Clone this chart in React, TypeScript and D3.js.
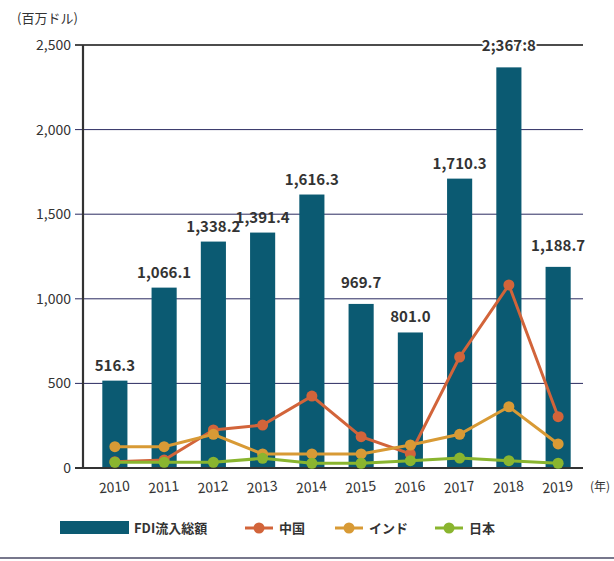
import { useRef, useEffect } from 'react';
import * as d3 from 'd3';

const years = ['2010', '2011', '2012', '2013', '2014', '2015', '2016', '2017', '2018', '2019'];
const fdiTotal = [516.3, 1066.1, 1338.2, 1391.4, 1616.3, 969.7, 801.0, 1710.3, 2367.8, 1188.7];
const fdiLabels = ['516.3', '1,066.1', '1,338.2', '1,391.4', '1,616.3', '969.7', '801.0', '1,710.3', '2;367:8', '1,188.7'];
const china = [37, 47, 225, 254, 425, 185, 83, 656, 1082, 303];
const india = [126, 126, 199, 83, 83, 83, 136, 199, 362, 142];
const japan = [34, 34, 34, 57, 28, 28, 43, 59, 43, 28];
const yTicks = [0, 500, 1000, 1500, 2000, 2500];

const FONT = '"Noto Sans CJK JP", "Noto Sans", sans-serif';
const BAR = '#0b5a72';
const lineSeries = [
  { name: '中国', values: china, color: '#d2643a' },
  { name: 'インド', values: india, color: '#d89a35' },
  { name: '日本', values: japan, color: '#8ab52f' },
];

export default function App() {
  const svgRef = useRef<SVGSVGElement>(null);

  useEffect(() => {
    const svg = d3.select(svgRef.current);
    svg.selectAll('*').remove();

    const left = 83, right = 583, top = 45, bottom = 468;

    const x = d3.scaleBand().domain(years).range([left + 7, right]).paddingInner(0.49).paddingOuter(0.25);
    const y = d3.scaleLinear().domain([0, 2500]).range([bottom, top]);
    const cx = (d: string) => (x(d) as number) + x.bandwidth() / 2;

    // grid
    svg.append('g').selectAll('line').data(yTicks.filter(t => t > 0)).join('line')
      .attr('x1', left - 8).attr('x2', right)
      .attr('y1', d => y(d)).attr('y2', d => y(d))
      .attr('stroke', d => d === 2500 ? '#111' : '#2a2a60')
      .attr('stroke-width', d => d === 2500 ? 1.3 : 1);

    // y labels
    svg.append('g').selectAll('text').data(yTicks).join('text')
      .attr('x', left - 12).attr('y', d => y(d) + 5)
      .attr('text-anchor', 'end').attr('font-size', 14).attr('fill', '#333')
      .attr('font-family', FONT)
      .text(d => d3.format(',')(d));

    svg.append('text').attr('x', 17).attr('y', 23).attr('font-size', 13)
      .attr('fill', '#333').attr('font-family', FONT).text('(百万ドル)');

    // bars
    svg.append('g').selectAll('rect').data(fdiTotal).join('rect')
      .attr('x', (_, i) => x(years[i]) as number)
      .attr('y', d => y(d))
      .attr('width', x.bandwidth())
      .attr('height', d => y(0) - y(d))
      .attr('fill', BAR);

    // axes
    svg.append('line').attr('x1', left).attr('x2', left).attr('y1', top).attr('y2', bottom + 1)
      .attr('stroke', '#333').attr('stroke-width', 2.2);
    svg.append('line').attr('x1', left - 8).attr('x2', right).attr('y1', bottom).attr('y2', bottom)
      .attr('stroke', '#333').attr('stroke-width', 2.2);

    // lines
    const line = d3.line<number>().x((_, i) => cx(years[i])).y(d => y(d));
    lineSeries.forEach(s => {
      const g = svg.append('g');
      g.append('path').datum(s.values).attr('d', line).attr('fill', 'none')
        .attr('stroke', s.color).attr('stroke-width', 3);
      g.selectAll('circle').data(s.values).join('circle')
        .attr('cx', (_, i) => cx(years[i])).attr('cy', d => y(d)).attr('r', 5.5)
        .attr('fill', s.color);
    });

    // value labels
    svg.append('g').selectAll('text').data(fdiTotal).join('text')
      .attr('x', (_, i) => cx(years[i]))
      .attr('y', (d, i) => y(d) - (i === 5 || i === 8 || i === 9 ? 16 : 10))
      .attr('text-anchor', 'middle').attr('font-size', 15).attr('font-weight', 'bold')
      .attr('fill', '#333').attr('font-family', FONT)
      .attr('stroke', (_, i) => i === 8 ? '#fff' : 'none')
      .attr('stroke-width', 4).attr('paint-order', 'stroke')
      .text((_, i) => fdiLabels[i]);

    // x labels
    svg.append('g').selectAll('text').data(years).join('text')
      .attr('transform', d => `translate(${cx(d)},${bottom + 24}) rotate(-5)`)
      .attr('text-anchor', 'middle').attr('font-size', 14).attr('fill', '#333')
      .attr('font-family', FONT).text(d => d);
    svg.append('text').attr('x', 590).attr('y', bottom + 23).attr('font-size', 12)
      .attr('fill', '#333').attr('font-family', FONT).text('(年)');

    // legend
    const ly = 528;
    svg.append('rect').attr('x', 60).attr('y', ly - 7).attr('width', 69).attr('height', 13).attr('fill', BAR);
    svg.append('text').attr('x', 134).attr('y', ly + 5).attr('font-size', 13).attr('font-weight', 'bold')
      .attr('fill', '#333').attr('font-family', FONT).text('FDI流入総額');
    const legX = [245, 335, 435];
    lineSeries.forEach((s, i) => {
      const lx = legX[i];
      svg.append('line').attr('x1', lx).attr('x2', lx + 28).attr('y1', ly).attr('y2', ly)
        .attr('stroke', s.color).attr('stroke-width', 3);
      svg.append('circle').attr('cx', lx + 14).attr('cy', ly).attr('r', 5.5).attr('fill', s.color);
      svg.append('text').attr('x', lx + 34).attr('y', ly + 5).attr('font-size', 13).attr('font-weight', 'bold')
        .attr('fill', '#333').attr('font-family', FONT).text(s.name);
    });

    svg.append('line').attr('x1', 0).attr('x2', 614).attr('y1', 558).attr('y2', 558)
      .attr('stroke', '#4a4a66').attr('stroke-width', 1.5);
  }, []);

  return (
    <svg ref={svgRef} width={614} height={561}
      style={{ position: 'absolute', left: 0, top: 0, background: '#fff' }} />
  );
}
